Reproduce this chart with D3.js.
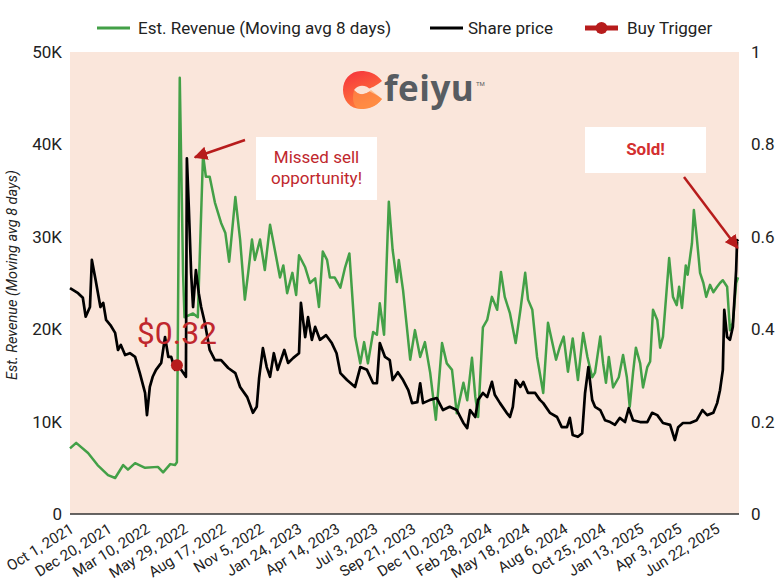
<!DOCTYPE html>
<html>
<head>
<meta charset="utf-8">
<script src="https://cdn.jsdelivr.net/npm/d3@7"></script>
<style>
  body { margin: 0; background: #fff; }
  svg { font-family: Roboto, "Noto Sans", sans-serif; }
</style>
</head>
<body>
<svg id="chart" width="778" height="584"></svg>
<script>
// data: [days since Oct 1 2021, value]
const startDate = new Date(2021, 9, 1);
const totalDays = 1408;
const tickEvery = 80;
const tickCount = 18;

// est. revenue, thousands (moving avg 8 days)
const revenue = [
  [0, 7.1], [13, 7.7], [38, 6.6], [58, 5.3], [80, 4.2], [95, 3.9], [112, 5.3], [122, 4.8],
  [137, 5.5], [158, 5.0], [185, 5.1], [196, 4.5], [211, 5.4], [221, 5.3], [225, 5.6], [231, 47.2],
  [238, 26], [241, 21.3], [259, 21.7], [269, 21.3], [280, 38.9], [286, 36.5], [294, 36.5], [305, 33.7],
  [318, 31.5], [327, 30.4], [335, 27.3], [348, 34.3], [358, 29.7], [368, 23.2], [375, 26.1], [383, 29.7],
  [389, 27.5], [400, 29.7], [410, 26.4], [421, 31.3], [431, 28.6], [442, 25.6], [449, 26.9], [457, 23.9],
  [468, 26.1], [476, 23.7], [482, 28], [495, 26.7], [505, 25], [516, 25.5], [524, 22.4], [532, 28.4],
  [541, 27.5], [547, 25.6], [557, 25.6], [569, 24.5], [579, 26.7], [588, 28.2], [600, 19.2], [611, 16.3],
  [619, 18.6], [627, 16.3], [638, 19.7], [646, 19.4], [652, 22.8], [661, 19.4], [671, 33.8], [679, 28.6],
  [688, 25.1], [692, 27.5], [701, 24.2], [708, 20.7], [716, 16.7], [726, 19.9], [737, 17], [747, 18.6],
  [758, 15.3], [770, 10.2], [783, 18.5], [793, 16.3], [804, 15.6], [814, 10.9], [828, 14.2], [836, 12.3],
  [846, 16.9], [853, 12.7], [859, 10.5], [869, 20.2], [878, 21], [888, 23.5], [899, 22.1], [907, 26.2],
  [915, 23.5], [926, 21.7], [938, 18.5], [948, 22.1], [958, 26.1], [964, 23.2], [973, 22.1], [983, 17],
  [996, 13.1], [1006, 20.7], [1014, 18.8], [1023, 16.7], [1031, 18.1], [1039, 19.2], [1048, 15.4], [1058, 19],
  [1069, 14.5], [1080, 19.6], [1089, 17], [1099, 14.8], [1105, 15.3], [1116, 19.2], [1122, 16.3], [1128, 14.2],
  [1134, 17], [1143, 13.7], [1155, 14.8], [1164, 17.2], [1172, 14.8], [1178, 11.6], [1185, 15.3], [1191, 18],
  [1200, 16.3], [1206, 13.7], [1215, 15.9], [1221, 16.5], [1227, 22.1], [1236, 21], [1242, 18], [1248, 19.2],
  [1261, 27.7], [1269, 23.5], [1277, 22.6], [1282, 24.6], [1288, 22.3], [1296, 26.9], [1300, 25.9], [1309, 29.3],
  [1313, 32.9], [1319, 30], [1326, 26.1], [1333, 25], [1339, 23.5], [1347, 24.8], [1354, 24], [1362, 24.6],
  [1368, 25], [1374, 25.3], [1383, 24.6], [1389, 19.9], [1395, 20.7], [1402, 25], [1406, 25.6]
];

// share price, USD
const price = [
  [0, 0.489], [6, 0.485], [17, 0.478], [27, 0.468], [33, 0.427], [42, 0.448], [46, 0.55], [54, 0.506],
  [64, 0.448], [70, 0.457], [76, 0.42], [85, 0.409], [95, 0.392], [101, 0.355], [107, 0.366], [116, 0.344],
  [126, 0.348], [137, 0.34], [147, 0.305], [158, 0.262], [162, 0.214], [168, 0.275], [174, 0.297], [181, 0.312],
  [192, 0.327], [200, 0.383], [207, 0.34], [213, 0.34], [221, 0.312], [225, 0.322], [234, 0.312], [244, 0.297],
  [246, 0.77], [250, 0.665], [255, 0.52], [259, 0.448], [265, 0.528], [271, 0.478], [276, 0.448], [284, 0.413],
  [294, 0.355], [305, 0.333], [318, 0.333], [333, 0.316], [348, 0.305], [358, 0.275], [373, 0.253], [385, 0.219],
  [393, 0.232], [398, 0.294], [406, 0.359], [414, 0.318], [421, 0.297], [429, 0.348], [437, 0.312], [451, 0.355],
  [459, 0.327], [470, 0.338], [482, 0.348], [486, 0.457], [495, 0.383], [501, 0.426], [509, 0.377], [516, 0.405],
  [526, 0.377], [539, 0.387], [551, 0.37], [561, 0.348], [569, 0.305], [583, 0.29], [600, 0.275], [611, 0.318],
  [625, 0.312], [638, 0.283], [646, 0.283], [652, 0.37], [663, 0.34], [673, 0.333], [679, 0.29], [690, 0.307],
  [701, 0.29], [712, 0.268], [720, 0.24], [731, 0.242], [737, 0.283], [743, 0.24], [758, 0.247], [772, 0.251],
  [785, 0.225], [799, 0.232], [814, 0.225], [828, 0.197], [836, 0.186], [842, 0.225], [853, 0.21], [859, 0.247],
  [869, 0.262], [878, 0.253], [888, 0.286], [894, 0.258], [905, 0.24], [919, 0.219], [926, 0.21], [932, 0.232],
  [938, 0.29], [948, 0.275], [954, 0.286], [964, 0.262], [979, 0.262], [989, 0.247], [996, 0.24], [1010, 0.219],
  [1025, 0.21], [1035, 0.188], [1046, 0.188], [1052, 0.208], [1058, 0.171], [1069, 0.167], [1078, 0.175], [1084, 0.262],
  [1091, 0.318], [1099, 0.247], [1105, 0.232], [1116, 0.225], [1126, 0.203], [1137, 0.199], [1147, 0.193], [1157, 0.208],
  [1168, 0.199], [1176, 0.229], [1185, 0.203], [1200, 0.199], [1215, 0.199], [1225, 0.219], [1236, 0.214], [1248, 0.197],
  [1263, 0.193], [1273, 0.16], [1280, 0.188], [1290, 0.197], [1305, 0.197], [1319, 0.203], [1331, 0.225], [1341, 0.214],
  [1354, 0.219], [1362, 0.24], [1368, 0.268], [1374, 0.312], [1377, 0.442], [1383, 0.383], [1389, 0.377], [1395, 0.405],
  [1402, 0.528], [1404, 0.593], [1406, 0.59]
];

const buyTrigger = [225, 0.322];
const soldPoint = [1405, 0.576];
const revTicks = [0, 10, 20, 30, 40, 50];
const priceTicks = [0, 0.2, 0.4, 0.6, 0.8, 1];

const dayToDate = (d) => d3.timeDay.offset(startDate, d);

const margin = { top: 52, right: 39, bottom: 70, left: 70 };
const W = 778, H = 584;
const svg = d3.select("#chart");
const defs = svg.append("defs");

const x = d3.scaleTime()
  .domain([startDate, dayToDate(totalDays)])
  .range([margin.left, W - margin.right]);
const yRev = d3.scaleLinear().domain([0, 50]).range([H - margin.bottom, margin.top]);
const yPrice = d3.scaleLinear().domain([0, 1]).range([H - margin.bottom, margin.top]);

// plot background
svg.append("rect")
  .attr("x", margin.left)
  .attr("y", margin.top)
  .attr("width", W - margin.left - margin.right)
  .attr("height", H - margin.top - margin.bottom)
  .style("fill", "#fae6db");

// logo
const grad = defs.append("linearGradient")
  .attr("id", "logoGrad").attr("x1", 0).attr("y1", 0).attr("x2", 0.4).attr("y2", 1);
grad.append("stop").attr("offset", "0%").attr("stop-color", "#f5303c");
grad.append("stop").attr("offset", "100%").attr("stop-color", "#ff7a3a");

const logo = svg.append("g").attr("transform", "translate(363,90)");
logo.append("path")
  .attr("d", "M19,-9 C13,-17 5,-19 -2,-19 C-13,-19 -20,-10 -20,0 C-20,10 -13,19 -2,19 C5,19 13,17 19,9 C13,4 8,2 3,0 C8,-2 13,-4 19,-9 Z")
  .style("fill", "url(#logoGrad)");
logo.append("path")
  .attr("d", "M-9,0 C-4,-6 3,-5 8,0 C3,5 -4,6 -9,0 Z")
  .style("fill", "#fbe3d6");
logo.append("path")
  .attr("d", "M-9,0 C-4,6 3,5 8,0 L19,9 C13,17 5,19 -2,19 C-8,19 -12,12 -9,0 Z")
  .style("fill", "#ff9a4a")
  .style("opacity", 0.55);
svg.append("text")
  .attr("x", 384).attr("y", 101)
  .style("font-family", "'Open Sans', sans-serif")
  .style("font-weight", "bold")
  .style("font-size", "35px")
  .style("letter-spacing", "0.5px")
  .style("fill", "#575c61")
  .text("feiyu");
svg.append("text")
  .attr("x", 476).attr("y", 86)
  .style("font-size", "6px")
  .style("fill", "#575c61")
  .text("TM");

// axes
const bottomY = H - margin.bottom;
const tickDates = d3.range(tickCount).map((i) => dayToDate(i * tickEvery));
const fmt = d3.timeFormat("%b %-d, %Y");

svg.append("g")
  .selectAll("text")
  .data(tickDates)
  .enter()
  .append("text")
  .attr("transform", (d) => `translate(${x(d) + 2},${bottomY + 13}) rotate(-32)`)
  .attr("text-anchor", "end")
  .attr("dy", "0.35em")
  .style("font-size", "15px")
  .style("fill", "#222")
  .text((d) => fmt(d));

svg.append("g")
  .selectAll("text")
  .data(revTicks)
  .enter()
  .append("text")
  .attr("x", margin.left - 8)
  .attr("y", (d) => yRev(d))
  .attr("dy", "0.35em")
  .attr("text-anchor", "end")
  .style("font-size", "17px")
  .style("fill", "#222")
  .text((d) => (d === 0 ? "0" : d + "K"));

svg.append("g")
  .selectAll("text")
  .data(priceTicks)
  .enter()
  .append("text")
  .attr("x", W - margin.right + 12)
  .attr("y", (d) => yPrice(d))
  .attr("dy", "0.35em")
  .style("font-size", "17px")
  .style("fill", "#222")
  .text((d) => d3.format("~g")(d));

svg.append("text")
  .attr("transform", `translate(17,${(margin.top + bottomY) / 2 - 8}) rotate(-90)`)
  .attr("text-anchor", "middle")
  .style("font-size", "14.5px")
  .style("font-style", "italic")
  .style("fill", "#222")
  .text("Est. Revenue (Moving avg 8 days)");

// lines
const revLine = d3.line()
  .x((d) => x(dayToDate(d[0])))
  .y((d) => yRev(d[1]));
const priceLine = d3.line()
  .x((d) => x(dayToDate(d[0])))
  .y((d) => yPrice(d[1]));

svg.append("path")
  .datum(revenue)
  .attr("d", revLine)
  .style("fill", "none")
  .style("stroke", "#43a047")
  .style("stroke-width", 2.5)
  .style("stroke-linejoin", "round");

svg.append("path")
  .datum(price)
  .attr("d", priceLine)
  .style("fill", "none")
  .style("stroke", "#000")
  .style("stroke-width", 2.7)
  .style("stroke-linejoin", "round");

svg.append("line")
  .attr("x1", margin.left).attr("x2", W - margin.right)
  .attr("y1", bottomY).attr("y2", bottomY)
  .style("stroke", "#333")
  .style("stroke-width", 1.5);

// buy trigger
const bx = x(dayToDate(buyTrigger[0]));
const by = yPrice(buyTrigger[1]);
svg.append("circle")
  .attr("cx", bx).attr("cy", by).attr("r", 6)
  .style("fill", "#b71c1c");
svg.append("text")
  .attr("x", bx).attr("y", by - 21)
  .attr("text-anchor", "middle")
  .style("font-size", "32px")
  .style("fill", "#c0272d")
  .text("$" + buyTrigger[1].toFixed(2));

// annotations
defs.append("marker")
  .attr("id", "arrow")
  .attr("viewBox", "0 0 10 10")
  .attr("refX", 9).attr("refY", 5)
  .attr("markerWidth", 5.5).attr("markerHeight", 5.5)
  .attr("orient", "auto")
  .append("path")
  .attr("d", "M0,0 L10,5 L0,10 Z")
  .style("fill", "#b71c1c");

svg.append("rect")
  .attr("x", 256).attr("y", 137).attr("width", 121).attr("height", 63)
  .style("fill", "#fff");
svg.append("text")
  .attr("x", 316.5).attr("y", 163)
  .attr("text-anchor", "middle")
  .style("font-size", "17px")
  .style("fill", "#c0272d")
  .selectAll("tspan")
  .data(["Missed sell", "opportunity!"])
  .enter()
  .append("tspan")
  .attr("x", 316.5)
  .attr("dy", (d, i) => (i === 0 ? 0 : "1.25em"))
  .text((d) => d);

const peak = price.reduce((a, b) => (b[1] > a[1] ? b : a));
svg.append("line")
  .attr("x1", 245).attr("y1", 140)
  .attr("x2", x(dayToDate(peak[0])) + 8).attr("y2", yPrice(peak[1]) - 1)
  .style("stroke", "#b71c1c")
  .style("stroke-width", 2.5)
  .attr("marker-end", "url(#arrow)");

svg.append("rect")
  .attr("x", 585).attr("y", 127).attr("width", 121).attr("height", 46)
  .style("fill", "#fff");
svg.append("text")
  .attr("x", 645.5).attr("y", 155)
  .attr("text-anchor", "middle")
  .style("font-size", "17px")
  .style("font-weight", "bold")
  .style("fill", "#d32f2f")
  .text("Sold!");

svg.append("line")
  .attr("x1", 684).attr("y1", 177)
  .attr("x2", x(dayToDate(soldPoint[0]))).attr("y2", yPrice(soldPoint[1]))
  .style("stroke", "#b71c1c")
  .style("stroke-width", 2.5)
  .attr("marker-end", "url(#arrow)");

// legend
const legend = svg.append("g").attr("transform", "translate(0,28)");
const items = [
  { label: "Est. Revenue (Moving avg 8 days)", color: "#43a047", x: 97, tx: 138 },
  { label: "Share price", color: "#000", x: 430, tx: 468 },
  { label: "Buy Trigger", color: "#b71c1c", x: 585, tx: 627, dot: true }
];
items.forEach((it) => {
  legend.append("line")
    .attr("x1", it.x).attr("x2", it.x + 33)
    .attr("y1", 0).attr("y2", 0)
    .style("stroke", it.color)
    .style("stroke-width", it.dot ? 5 : 3);
  if (it.dot) {
    legend.append("circle")
      .attr("cx", it.x + 16.5).attr("cy", 0).attr("r", 6)
      .style("fill", it.color);
  }
  legend.append("text")
    .attr("x", it.tx).attr("y", 0)
    .attr("dy", "0.35em")
    .style("font-size", "17px")
    .style("fill", "#222")
    .text(it.label);
});
</script>
</body>
</html>
